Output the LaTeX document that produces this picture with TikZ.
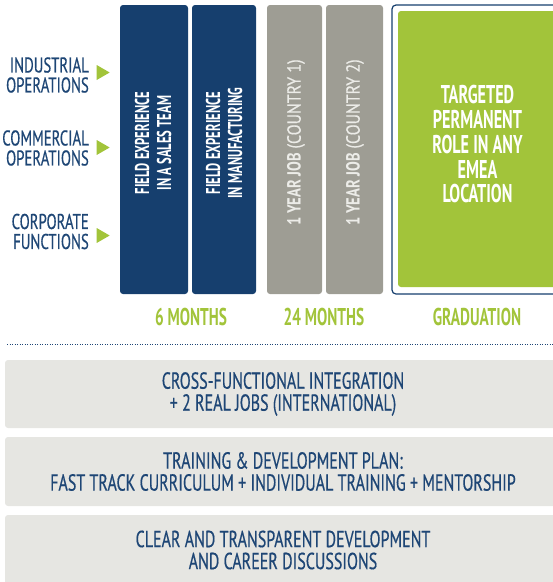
\documentclass[tikz,border=0pt]{standalone}
\usepackage{fontspec}
\setmainfont{PT Sans}[UprightFeatures={FakeStretch=0.69, FakeBold=0.5}, BoldFeatures={FakeStretch=0.63}]
\usetikzlibrary{shapes.geometric}
\definecolor{navy}{HTML}{163F6E}
\definecolor{stone}{HTML}{9E9D94}
\definecolor{lime}{HTML}{A2C43A}
\definecolor{pale}{HTML}{E6E6E2}
\definecolor{ink}{HTML}{1E4675}
\definecolor{mist}{HTML}{ECECE8}
\begin{document}
\begin{tikzpicture}[x=1pt,y=-1pt,
  col/.style={rounded corners=3pt, inner sep=0pt, minimum height=289pt},
  navybox/.style={col, fill=navy},
  stonebox/.style={col, fill=stone},
  vtext/.style={rotate=90, text=white, align=center, font=\fontsize{20}{22}\selectfont},
  sidelabel/.style={anchor=east, align=right, text=ink, font=\fontsize{21.4}{20}\selectfont, inner sep=0pt},
  marker/.style={isosceles triangle, isosceles triangle apex angle=60, fill=lime, inner sep=0pt, minimum height=8pt, minimum width=15pt},
  phase/.style={text=lime, font=\bfseries\fontsize{24.3}{24}\selectfont, inner sep=0pt},
  bar/.style={fill=pale, rounded corners=3pt, minimum width=556pt, inner sep=0pt, text=ink, align=center, font=\fontsize{23.2}{22}\selectfont}
]
\useasboundingbox (0,0) rectangle (553,582);
\clip (0,0) rectangle (553,582);

% left labels
\node[sidelabel] (ind) at (89,75) {INDUSTRIAL\\OPERATIONS};
\node[sidelabel] (com) at (89,148) {COMMERCIAL\\OPERATIONS};
\node[sidelabel] (cor) at (89,231.5) {CORPORATE\\FUNCTIONS};
\node[marker] (m1) at (101,72.5) {};
\node[marker] (m2) at (101,147.5) {};
\node[marker] (m3) at (101,235.5) {};

% columns
\node[navybox, minimum width=68pt] (b1) at (154,149.5) {};
\node[navybox, minimum width=64pt] (b2) at (224,149.5) {};
\node[stonebox, minimum width=55pt] (g1) at (294.5,149.5) {};
\node[stonebox, minimum width=57pt] (g2) at (354.5,149.5) {};
\node[vtext, font=\bfseries\fontsize{20}{22}\selectfont] (t1) at (153,143) {FIELD EXPERIENCE\\IN A SALES TEAM};
\node[vtext, font=\bfseries\fontsize{20}{22}\selectfont] (t2) at (224,143) {FIELD EXPERIENCE\\IN MANUFACTURING};
\node[vtext, text=mist, font=\fontsize{19}{22}\selectfont] (t3) at (296,142.5) {\scalebox{1.22}[1]{\textbf{1 YEAR JOB} (COUNTRY 1)}};
\node[vtext, text=mist, font=\fontsize{19}{22}\selectfont] (t4) at (355,142.5) {\scalebox{1.22}[1]{\textbf{1 YEAR JOB} (COUNTRY 2)}};

% graduation
\node[draw=navy, line width=1.2pt, fill=white, rounded corners=4pt, minimum width=175pt, minimum height=289pt, inner sep=0pt] (gout) at (479.5,149.5) {};
\node[fill=lime, rounded corners=3pt, minimum width=163pt, minimum height=276pt, inner sep=0pt] (gin) at (479.5,149) {};
\node[text=white, align=center, font=\bfseries\fontsize{25.7}{25}\selectfont] (gt) at (477.5,144) {TARGETED\\PERMANENT\\ROLE IN ANY\\EMEA\\LOCATION};

% phase labels
\node[phase] (p1) at (191,316.5) {6 MONTHS};
\node[phase] (p2) at (324,316.5) {24 MONTHS};
\node[phase] (p3) at (477,316.5) {GRADUATION};

% dotted rule
\coordinate (d0) at (7,344);
\coordinate (d1) at (553,344);
\draw[ink, line width=0.9pt, dash pattern=on 0.9pt off 1.6pt] (d0) -- (d1);

% bars
\node[bar, minimum height=68pt] (r1) at (283,394) {CROSS-FUNCTIONAL INTEGRATION\\+ 2 REAL JOBS (INTERNATIONAL)};
\node[bar, minimum height=69pt] (r2) at (283,471.5) {TRAINING \& DEVELOPMENT PLAN:\\FAST TRACK CURRICULUM + INDIVIDUAL TRAINING + MENTORSHIP};
\node[bar, minimum height=70pt] (r3) at (283,550) {CLEAR AND TRANSPARENT DEVELOPMENT\\AND CAREER DISCUSSIONS};
\end{tikzpicture}
\end{document}
